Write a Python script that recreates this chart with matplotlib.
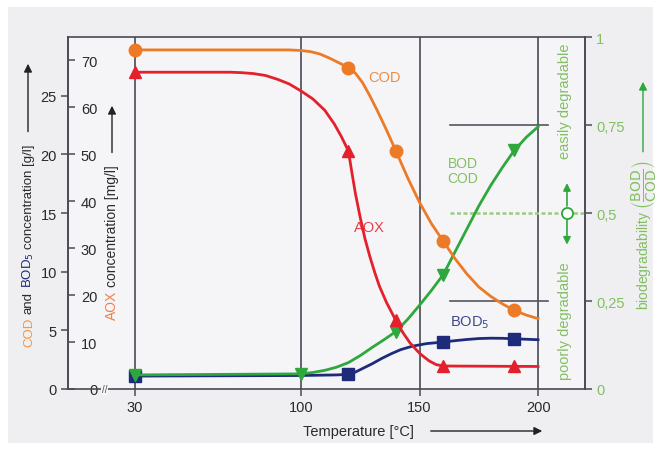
import numpy as np
import matplotlib
matplotlib.use('Agg')
import matplotlib.pyplot as plt
from matplotlib.patches import Rectangle, FancyArrowPatch

plt.rcParams['font.family'] = ['Liberation Sans', 'DejaVu Sans']

# temperatures where the markers sit
cod_t = [30, 120, 140, 160, 190]
cod_gl = [28.9, 27.4, 20.3, 12.6, 6.7]
aox_t = [30, 120, 140, 160, 190]
aox_mgl = [67.5, 50.7, 14.6, 4.9, 4.8]
bod_t = [30, 120, 160, 190]
bod_gl = [1.1, 1.25, 4.0, 4.28]
ratio_t = [30, 100, 140, 160, 190]
ratio_v = [0.04, 0.043, 0.163, 0.325, 0.678]

# points
cod_curve_t = [30, 95, 100, 104, 108, 112, 116, 120, 123, 126, 129, 132, 136, 140, 145, 150,
               155, 160, 165, 170, 175, 180, 185, 190, 195, 200]
cod_curve_v = [28.9, 28.9, 28.85, 28.75, 28.55, 28.2, 27.8, 27.4, 26.9, 26.1, 25.0, 23.8, 22.1, 20.3,
               18.0, 15.9, 14.1, 12.6, 11.1, 9.8, 8.7, 7.9, 7.25, 6.7, 6.3, 6.0]
aox_curve_t = [30, 70, 75, 80, 85, 90, 95, 100, 105, 110, 114, 117, 120, 121.5, 123, 125, 127, 129,
               131, 133, 136, 140, 143, 146, 150, 154, 157, 160, 200]
aox_curve_v = [67.5, 67.5, 67.4, 67.2, 66.8, 66.0, 65.0, 63.5, 61.8, 59.4, 56.5, 53.8, 50.7, 46.0,
               41.5, 36.5, 32.0, 28.3, 25.0, 22.0, 18.5, 14.6, 12.0, 9.8, 7.6, 6.0, 5.2, 4.9, 4.8]
bod_curve_t = [30, 100, 115, 120, 123, 126, 130, 134, 138, 142, 147, 153, 160, 165, 170, 175, 180,
               185, 190, 195, 200]
bod_curve_v = [1.1, 1.15, 1.2, 1.25, 1.45, 1.75, 2.15, 2.6, 3.0, 3.35, 3.65, 3.87, 4.0, 4.12, 4.22,
               4.3, 4.33, 4.32, 4.28, 4.24, 4.2]
ratio_curve_t = [30, 100, 105, 110, 115, 120, 125, 130, 135, 140, 145, 150, 155, 160, 165, 170, 175,
                 180, 185, 190, 195, 200]
ratio_curve_v = [0.04, 0.043, 0.047, 0.053, 0.062, 0.075, 0.095, 0.118, 0.14, 0.163, 0.198, 0.238,
                 0.28, 0.325, 0.39, 0.455, 0.52, 0.578, 0.63, 0.678, 0.715, 0.745]

x_ticks = [30, 100, 150, 200]
gl_ticks = [0, 5, 10, 15, 20, 25]
mgl_ticks = [0, 10, 20, 30, 40, 50, 60, 70]
ratio_ticks = [0, 0.25, 0.5, 0.75, 1]
ratio_labels = ['0', '0,25', '0,5', '0,75', '1']

ORANGE = '#ec7a26'
RED = '#e3202b'
NAVY = '#1e2b7a'
GREEN = '#2ea83c'
LGREEN = '#82bf62'
GRID = '#4a4a55'
TXT = '#2a2a2a'

GL_MAX = 30.0
MGL_MAX = 75.0


def aox_to_gl(v):
    return np.asarray(v) * GL_MAX / MGL_MAX


def ratio_to_gl(v):
    return np.asarray(v) * GL_MAX


fig = plt.figure(figsize=(6.6, 4.52), dpi=100, facecolor='white')
fig.patches.append(Rectangle((8 / 660, 8 / 452), 645 / 660, 436 / 452, transform=fig.transFigure,
                             facecolor='#efeff1', edgecolor='none', zorder=-10))
ax = fig.add_axes([68 / 660, 1 - 390 / 452, 517 / 660, 352 / 452])
ax.set_facecolor('#f5f5f7')
ax.set_xlim(1.7, 219.8)
ax.set_ylim(0, GL_MAX)

for s in ax.spines.values():
    s.set_color(GRID)
    s.set_linewidth(1.2)

for t in x_ticks:
    ax.axvline(t, color=GRID, lw=1.2, zorder=1)

# reference lines on the biodegradability scale
ax.plot([163, 204], ratio_to_gl([0.75, 0.75]), color='#555560', lw=1.2, zorder=1)
ax.plot([163, 204], ratio_to_gl([0.25, 0.25]), color='#555560', lw=1.2, zorder=1)
ax.plot([163, 219.8], ratio_to_gl([0.5, 0.5]), color='#9ccc7c', lw=1.8, ls=(0, (1.6, 1.0)), zorder=1,
        clip_on=False)

# curves
ax.plot(bod_curve_t, bod_curve_v, color=NAVY, lw=2, zorder=3, solid_joinstyle='round')
ax.plot(bod_t, bod_gl, 's', color=NAVY, ms=8, zorder=3)
ax.plot(ratio_curve_t, ratio_to_gl(ratio_curve_v), color=GREEN, lw=2, zorder=4, solid_joinstyle='round')
ax.plot(ratio_t, ratio_to_gl(ratio_v), 'v', color=GREEN, ms=9, zorder=4)
ax.plot(cod_curve_t, cod_curve_v, color=ORANGE, lw=2, zorder=5, solid_joinstyle='round')
ax.plot(cod_t, cod_gl, 'o', color=ORANGE, ms=9, zorder=5)
ax.plot(aox_curve_t, aox_to_gl(aox_curve_v), color=RED, lw=2, zorder=6, solid_joinstyle='round')
ax.plot(aox_t, aox_to_gl(aox_mgl), '^', color=RED, ms=9, zorder=6)

# 0.5 marker with arrows
ax.plot([212.2], ratio_to_gl([0.5]), 'o', ms=8, mfc='white', mec=GREEN, mew=1.3, zorder=7, clip_on=False)
for end in [0.585, 0.41]:
    ax.annotate('', xy=(212.2, ratio_to_gl(end)), xytext=(212.2, ratio_to_gl(0.5)),
                arrowprops=dict(arrowstyle='-|>', color=GREEN, lw=1.2, mutation_scale=11, shrinkA=5, shrinkB=0),
                annotation_clip=False)

ax.text(211.4, ratio_to_gl(0.82), 'easily degradable', rotation=90, ha='center', va='center',
        color=LGREEN, fontsize=10.5)
ax.text(211.4, ratio_to_gl(0.195), 'poorly degradable', rotation=90, ha='center', va='center',
        color=LGREEN, fontsize=10.5)

# inline series labels
ax.text(135.4, 26.6, 'COD', color=ORANGE, fontsize=10.5, ha='center', va='center', alpha=0.85)
ax.text(128.8, 13.8, 'AOX', color=RED, fontsize=10.5, ha='center', va='center', alpha=0.85)
ax.text(171.3, 5.7, 'BOD$_5$', color=NAVY, fontsize=10.5, ha='center', va='center', alpha=0.85)
ax.text(168.3, 19.3, 'BOD', color=LGREEN, fontsize=10, ha='center', va='center')
ax.text(168.3, 18.0, 'COD', color=LGREEN, fontsize=10, ha='center', va='center')

# axis break mark
ax.text(17, 0, '//', fontsize=7, color=GRID, ha='center', va='center', clip_on=False,
        bbox=dict(facecolor='#f5f5f7', edgecolor='none', pad=0.5))

# x axis
ax.set_xticks(x_ticks)
ax.tick_params(axis='x', direction='out', length=5, width=1.1, color=GRID, labelsize=10.5,
               labelcolor=TXT, pad=3)

# outer left axis: COD and BOD5 in g/l
ax.set_yticks(gl_ticks)
ax.tick_params(axis='y', direction='out', length=5, width=1.1, color=GRID, labelsize=10.5,
               labelcolor=TXT, pad=3)

# inner left axis: AOX in mg/l
aox_ax = ax.secondary_yaxis(0, functions=(lambda y: y * MGL_MAX / GL_MAX, lambda v: v * GL_MAX / MGL_MAX))
aox_ax.set_yticks(mgl_ticks)
aox_ax.tick_params(axis='y', direction='in', length=5, width=1.1, color=GRID, labelsize=10.5,
                   labelcolor=TXT, pad=-21)
aox_ax.spines['left'].set_color(GRID)
aox_ax.spines['left'].set_linewidth(1.2)

# right axis: BOD/COD
ratio_ax = ax.secondary_yaxis(1, functions=(lambda y: y / GL_MAX, lambda r: r * GL_MAX))
ratio_ax.set_yticks(ratio_ticks)
ratio_ax.set_yticklabels(ratio_labels)
ratio_ax.tick_params(axis='y', direction='out', length=5, width=1.1, color=GRID, labelsize=10.5,
                     labelcolor=LGREEN, pad=3)
ratio_ax.spines['right'].set_color(GRID)
ratio_ax.spines['right'].set_linewidth(1.2)

# axis titles
fig.text(358 / 660, 1 - 432 / 452, 'Temperature [°C]', fontsize=10.5, color=TXT, ha='center', va='center')
fig.add_artist(FancyArrowPatch((428 / 660, 1 - 432 / 452), (545 / 660, 1 - 432 / 452),
                               transform=fig.transFigure, arrowstyle='-|>',
                               mutation_scale=12, color='#222222', lw=1))

renderer = fig.canvas.get_renderer()


def vlabel(x, y, pieces, size, gap=0.008):
    for s, c in pieces:
        t = fig.text(x, y, s, color=c, fontsize=size, rotation=90, rotation_mode='anchor',
                     ha='left', va='baseline')
        bb = t.get_window_extent(renderer=renderer)
        y += bb.height / fig.bbox.height + gap
    return y


top = vlabel(32 / 660, 1 - 347 / 452, [('COD', '#f0964a'), ('and', TXT), ('BOD$_5$', NAVY),
                                        ('concentration [g/l]', TXT)], 9.5)
fig.add_artist(FancyArrowPatch((28 / 660, top + 0.012), (28 / 660, 1 - 62 / 452),
                               transform=fig.transFigure, arrowstyle='-|>',
                               mutation_scale=12, color='#222222', lw=1))

top = vlabel(116 / 660, 1 - 320 / 452, [('AOX', '#ef7f4a'), ('concentration [mg/l]', TXT)], 10)
fig.add_artist(FancyArrowPatch((112 / 660, top + 0.012), (112 / 660, 1 - 104 / 452),
                               transform=fig.transFigure, arrowstyle='-|>',
                               mutation_scale=12, color='#222222', lw=1))

rt = fig.text(643 / 660, 1 - 310 / 452, r'biodegradability $\left(\dfrac{\mathrm{BOD}}{\mathrm{COD}}\right)$',
              rotation=90, ha='center', va='bottom', color=LGREEN, fontsize=10)
bb = rt.get_window_extent(renderer=renderer)
fig.add_artist(FancyArrowPatch((643 / 660, bb.y1 / fig.bbox.height + 0.01),
                               (643 / 660, 1 - 80 / 452),
                               transform=fig.transFigure, arrowstyle='-|>',
                               mutation_scale=12, color=GREEN, lw=1))

fig.savefig('out.png', dpi=100, facecolor=fig.get_facecolor())
